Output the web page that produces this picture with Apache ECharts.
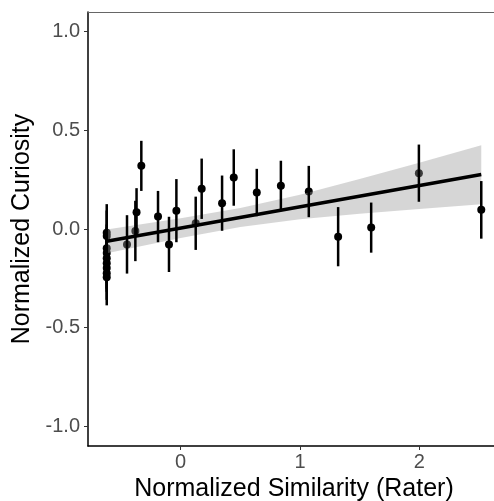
<!DOCTYPE html>
<html>
<head>
<meta charset="utf-8">
<script src="https://cdn.jsdelivr.net/npm/echarts@6/dist/echarts.min.js"></script>
<style>
  html, body { margin: 0; padding: 0; background: #fff; }
  #chart { width: 494px; height: 501px; }
</style>
</head>
<body>
<div id="chart"></div>
<script>
// 数据点（标准化相似度 vs 标准化好奇心）
const simX = [
  -0.62, -0.62, -0.62, -0.62, -0.62, -0.62, -0.62, -0.62, -0.62,
  -0.45, -0.38, -0.37, -0.33, -0.19, -0.098, -0.036, 0.126, 0.176,
  0.347, 0.445, 0.638, 0.84, 1.074, 1.32, 1.597, 1.997, 2.52
];
const curY = [
  -0.019, -0.036, -0.097, -0.122, -0.148, -0.173, -0.198, -0.224, -0.244,
  -0.078, -0.01, 0.085, 0.32, 0.063, -0.078, 0.093, 0.029, 0.204,
  0.131, 0.261, 0.185, 0.219, 0.19, -0.039, 0.007, 0.283, 0.097
];
const curErr = [
  0.145, 0.13, 0.12, 0.13, 0.125, 0.13, 0.12, 0.135, 0.143,
  0.148, 0.153, 0.122, 0.127, 0.13, 0.14, 0.16, 0.135, 0.153,
  0.14, 0.143, 0.12, 0.127, 0.13, 0.15, 0.127, 0.145, 0.146
];

// 回归线与置信带
const fitX = [-0.62, 2.52];
const fitY = [-0.062, 0.276];
const bandX = [-0.62, 0, 0.5, 1, 1.5, 2, 2.52];
const bandLow = [-0.123, -0.046, 0.010, 0.050, 0.077, 0.102, 0.126];
const bandHigh = [-0.003, 0.054, 0.106, 0.174, 0.253, 0.336, 0.424];

const xTicks = [0, 1, 2];
const yTicks = [-1, -0.5, 0, 0.5, 1];

const chart = echarts.init(document.getElementById('chart'));

const points = simX.map((x, i) => [x, curY[i]]);
const bars = simX.map((x, i) => [x, curY[i] - curErr[i], curY[i] + curErr[i]]);
const fitLine = fitX.map((x, i) => [x, fitY[i]]);

const font = 'Liberation Sans, Arial, sans-serif';
const labelStyle = { color: '#4d4d4d', fontSize: 20, fontFamily: font };
const nameStyle = { color: '#000', fontSize: 25, fontFamily: font };

chart.setOption({
  animation: false,
  grid: { left: 88, right: -6, top: 12, bottom: 55, outerBoundsMode: 'none' },
  xAxis: [{
    type: 'value',
    min: -0.777,
    max: 2.677,
    splitLine: { show: false },
    axisLine: { onZero: false, lineStyle: { color: '#000', width: 1.5 } },
    axisTick: { length: 4, lineStyle: { color: '#333' }, customValues: xTicks },
    axisLabel: Object.assign({ margin: 6, customValues: xTicks, formatter: v => String(v) }, labelStyle),
    name: 'Normalized Similarity (Rater)',
    nameLocation: 'middle',
    nameGap: 29,
    nameTextStyle: nameStyle,
  }, {
    type: 'value',
    position: 'top',
    min: -0.777,
    max: 2.677,
    splitLine: { show: false },
    axisLine: { show: true, onZero: false, lineStyle: { color: '#666', width: 1 } },
    axisTick: { show: false },
    axisLabel: { show: false },
  }],
  yAxis: {
    type: 'value',
    min: -1.1,
    max: 1.1,
    splitLine: { show: false },
    axisLine: { show: true, onZero: false, lineStyle: { color: '#000', width: 1.5 } },
    axisTick: { show: true, length: 4, lineStyle: { color: '#333' }, customValues: yTicks },
    axisLabel: Object.assign({ margin: 8, customValues: yTicks, formatter: v => v.toFixed(1) }, labelStyle),
    name: 'Normalized Curiosity',
    nameLocation: 'middle',
    nameGap: 52,
    nameTextStyle: nameStyle,
  },
  series: [
    {
      type: 'scatter',
      data: points,
      symbolSize: 8,
      itemStyle: { color: '#000', opacity: 1 },
      z: 1,
    },
    {
      type: 'custom',
      data: [0],
      z: 2,
      silent: true,
      renderItem: (params, api) => {
        const upper = bandX.map((x, i) => api.coord([x, bandHigh[i]]));
        const lower = bandX.map((x, i) => api.coord([x, bandLow[i]])).reverse();
        return {
          type: 'polygon',
          shape: { points: upper.concat(lower) },
          style: { fill: 'rgba(153,153,153,0.4)' },
        };
      },
    },
    {
      type: 'custom',
      data: bars,
      z: 3,
      renderItem: (params, api) => {
        const p1 = api.coord([api.value(0), api.value(1)]);
        const p2 = api.coord([api.value(0), api.value(2)]);
        return {
          type: 'line',
          shape: { x1: p1[0], y1: p1[1], x2: p2[0], y2: p2[1] },
          style: { stroke: '#000', lineWidth: 2.5 },
        };
      },
    },
    {
      type: 'line',
      data: fitLine,
      symbol: 'none',
      lineStyle: { color: '#000', width: 3.5 },
      z: 4,
    },
  ],
});

window.addEventListener('resize', () => chart.resize());
</script>
</body>
</html>
